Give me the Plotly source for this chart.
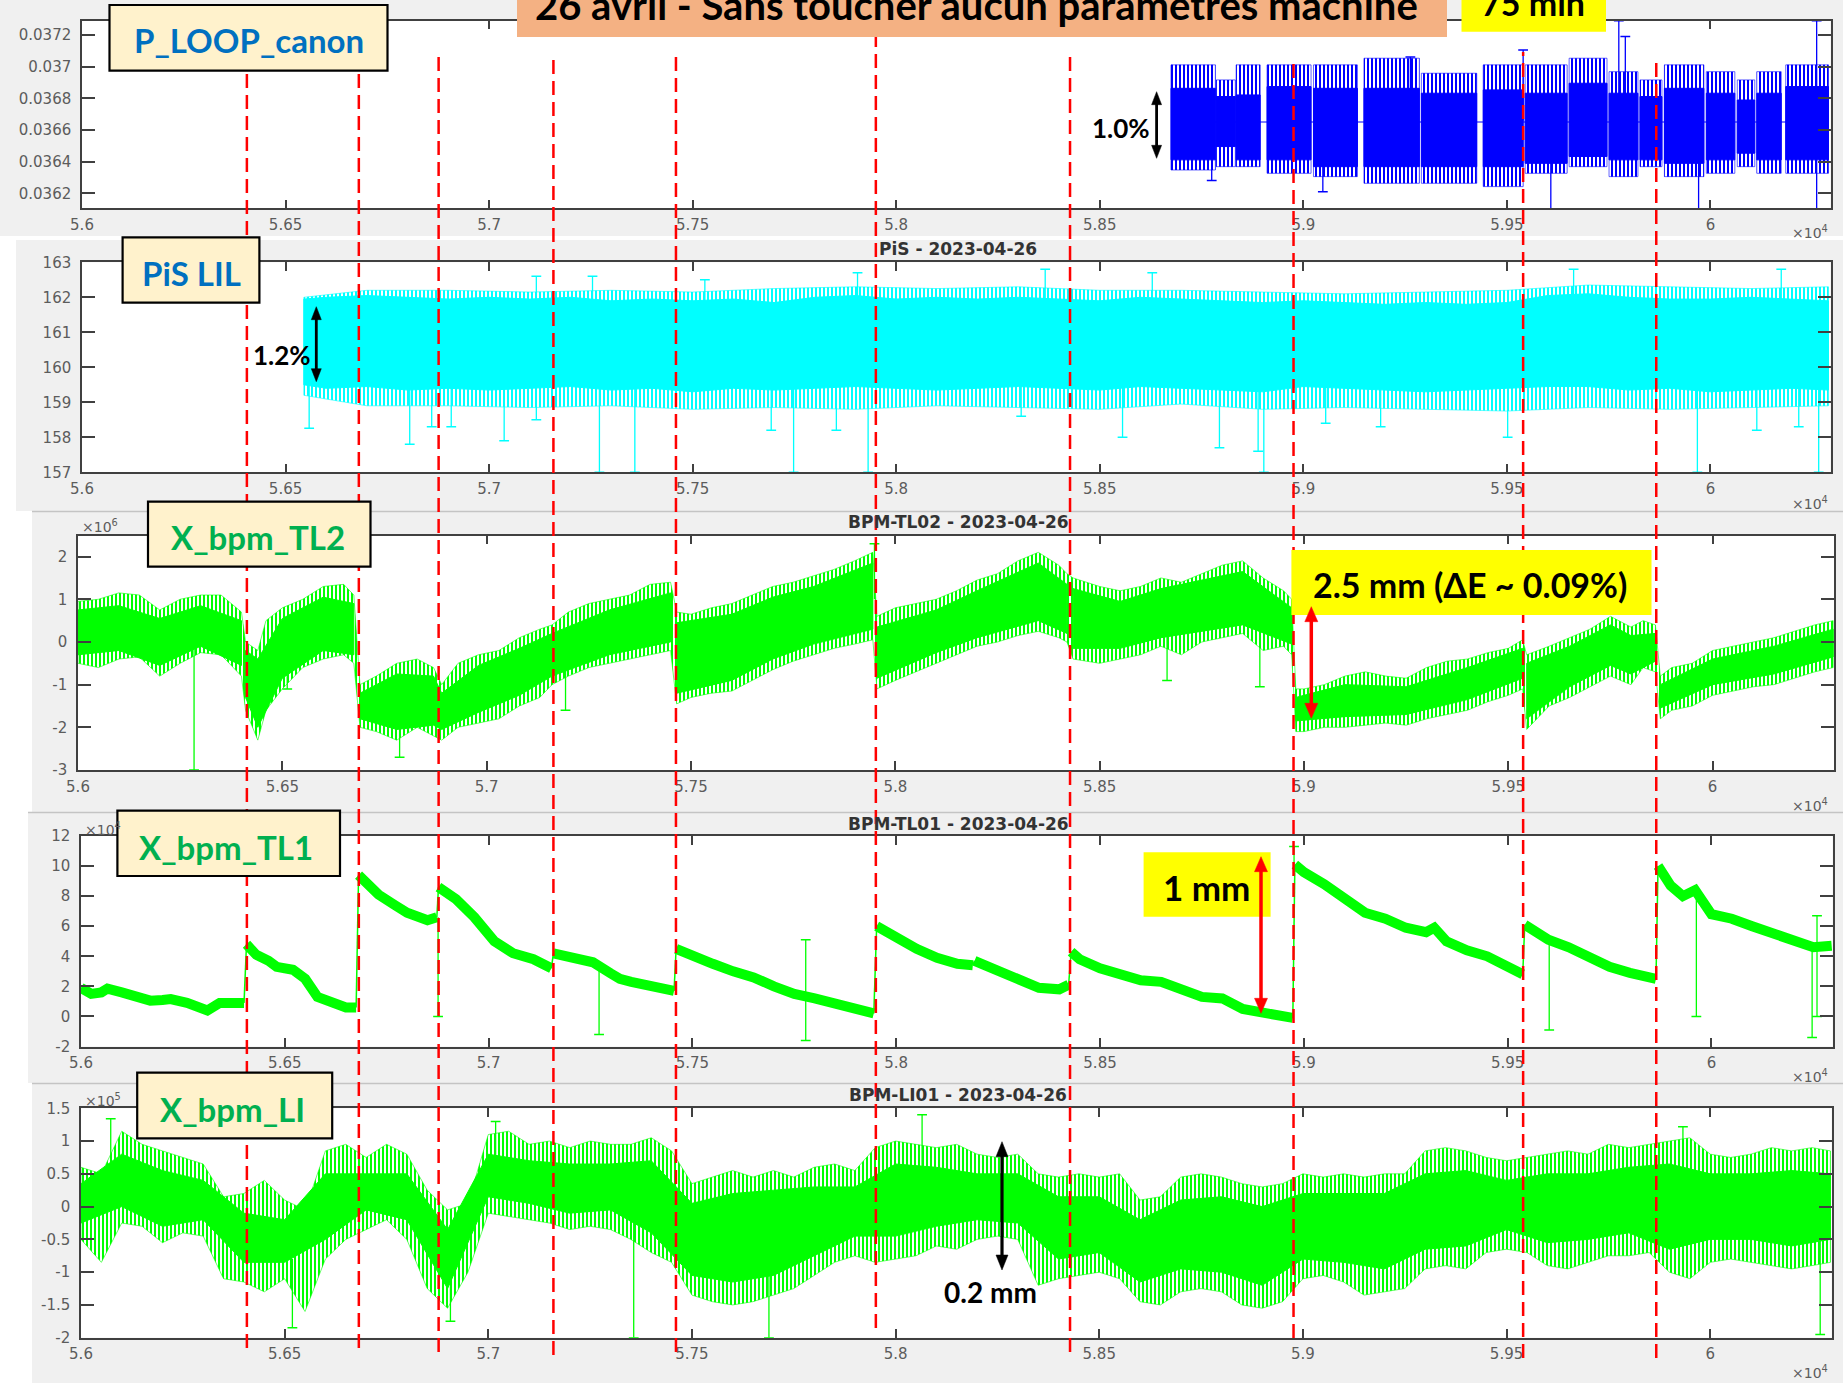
import plotly.graph_objects as go

W, H = 1843, 1383


def fx(v):
    return v / W


def fy(v):
    return 1 - v / H


# ---------------------------------------------------------------- data
x_tick_vals = [56000, 56500, 57000, 57500, 58000, 58500, 59000, 59500, 60000]
x_tick_text = ["5.6", "5.65", "5.7", "5.75", "5.8", "5.85", "5.9", "5.95", "6"]

events_x = [56405, 56680, 56876, 57158, 57459, 57950, 58427, 58976, 59540, 59867]

# Panel 1 : P_LOOP_canon  (data comes in blocks)
p1_yticks = [0.0362, 0.0364, 0.0366, 0.0368, 0.037, 0.0372]
p1_ytext = ["0.0362", "0.0364", "0.0366", "0.0368", "0.037", "0.0372"]
p1_blk_x0 = [58675, 58786, 58835, 58911, 59025, 59149, 59290, 59442, 59545, 59653, 59751,
             59827, 59887, 59990, 60066, 60114, 60185]
p1_blk_x1 = [58784, 58833, 58894, 59019, 59133, 59285, 59426, 59540, 59648, 59746, 59822,
             59881, 59984, 60060, 60109, 60174, 60290]
p1_out_hi = [0.037011, 0.036916, 0.037011, 0.037011, 0.037011, 0.037053, 0.036958, 0.037011,
             0.037011, 0.037053, 0.036968, 0.036916, 0.037011, 0.036968, 0.036916, 0.036968,
             0.037011]
p1_out_lo = [0.036347, 0.036368, 0.036368, 0.036326, 0.036305, 0.036263, 0.036263, 0.036242,
             0.036326, 0.036368, 0.036305, 0.036368, 0.036305, 0.036326, 0.036368, 0.036326,
             0.036326]
p1_core_hi = [0.036863, 0.036811, 0.036821, 0.036874, 0.036863, 0.036863, 0.036832, 0.036853,
              0.036832, 0.036895, 0.036832, 0.036811, 0.036863, 0.036832, 0.036789, 0.036832,
              0.036874]
p1_core_lo = [0.036411, 0.036495, 0.036411, 0.036411, 0.036368, 0.036368, 0.036368, 0.036368,
              0.036389, 0.036432, 0.036411, 0.036411, 0.036389, 0.036411, 0.036453, 0.036411,
              0.036411]
p1_mid = 0.03665
p1_spk_x = [58775, 59048, 59263, 59540, 59608, 59775, 59791, 59971, 60261, 60261]
p1_spk_base = [0.03666, 0.03666, 0.03666, 0.03666, 0.03666, 0.03666, 0.03666, 0.03666, 0.03666, 0.03666]
p1_spk_tip = [0.03628, 0.03621, 0.03706, 0.037105, 0.0361, 0.03729, 0.03719, 0.0361, 0.03729, 0.0361]

# Panel 2 : PiS LIL
p2_yticks = [157, 158, 159, 160, 161, 162, 163]
p2_ytext = ["157", "158", "159", "160", "161", "162", "163"]
p2_x = [56545, 56600, 56700, 56800, 56900, 57000, 57100, 57200, 57300, 57400, 57500,
        57600, 57700, 57800, 57900, 58000, 58100, 58200, 58300, 58400, 58500, 58600,
        58700, 58800, 58900, 59000, 59100, 59200, 59300, 59400, 59500, 59600, 59700,
        59800, 59900, 60000, 60100, 60200, 60290]
p2_hi = [161.95, 162.0, 162.05, 162.0, 161.95, 162.0, 161.95, 162.0, 161.9, 161.95, 161.9,
         161.95, 161.85, 162.0, 162.05, 161.95, 162.0, 161.95, 162.0, 161.95, 161.9, 162.0,
         161.95, 161.9, 161.85, 161.9, 161.85, 161.8, 161.85, 161.8, 161.85, 162.05, 162.1,
         162.0, 161.95, 161.95, 162.0, 161.95, 161.9]
p2_lo = [159.5, 159.4, 159.45, 159.35, 159.4, 159.35, 159.4, 159.45, 159.35, 159.4, 159.3,
         159.4, 159.35, 159.4, 159.45, 159.4, 159.35, 159.4, 159.45, 159.4, 159.35, 159.45,
         159.4, 159.35, 159.3, 159.45, 159.4, 159.35, 159.3, 159.35, 159.4, 159.45, 159.45,
         159.35, 159.4, 159.3, 159.35, 159.4, 159.35]
p2o_x = [56545, 56700, 56900, 57100, 57300, 57500, 57700, 57900, 58100, 58300, 58500, 58700,
         58900, 59100, 59300, 59500, 59700, 59900, 60100, 60290]
p2o_hi = [162.0, 162.2, 162.2, 162.15, 162.2, 162.15, 162.25, 162.3, 162.25, 162.3, 162.2,
          162.2, 162.15, 162.1, 162.15, 162.2, 162.35, 162.3, 162.25, 162.3]
p2o_lo = [159.2, 158.9, 158.9, 158.85, 158.9, 158.8, 158.85, 158.8, 158.9, 158.85, 158.8,
          158.95, 158.8, 158.85, 158.8, 158.75, 158.85, 158.8, 158.85, 158.9]
p2_spk_x = [56558, 56805, 56859, 56907, 57037, 57116, 57271, 57358, 57748, 57931, 57693,
            57853, 58307, 58556, 58794, 58889, 58903, 59190, 59502, 59968, 60266, 60114,
            60217, 59055, 57116, 57254, 57905, 58366, 58629, 57530, 59664, 60174]
p2_spk_base = [159.6] * 24 + [161.8] * 8
p2_spk_tip = [158.26, 157.8, 158.3, 158.3, 157.9, 158.5, 157.0, 157.0, 157.0, 157.0, 158.2,
              158.2, 158.6, 158.0, 157.7, 157.6, 157.0, 158.3, 158.0, 157.0, 157.0, 158.2,
              158.3, 158.4, 162.6, 162.6, 162.7, 162.8, 162.7, 162.5, 162.8, 162.8]

# Panel 3 : X_bpm_TL2 (x1e6) - outer extent
p3_yticks = [-3, -2, -1, 0, 1, 2]
p3_ytext = ["-3", "-2", "-1", "0", "1", "2"]
p3_x = [56000, 56050, 56100, 56150, 56200, 56250, 56300, 56350, 56400,
        56410, 56440, 56460, 56500, 56550, 56600, 56650, 56675,
        56690, 56730, 56780, 56830, 56870, 56890, 56930, 56980, 57030, 57080, 57130,
        57160, 57200, 57250, 57300, 57350, 57400, 57450,
        57465, 57500, 57550, 57600, 57650, 57700, 57750, 57800, 57850, 57900, 57945,
        57955, 58000, 58050, 58100, 58150, 58200, 58250, 58300, 58350, 58400, 58420,
        58435, 58500, 58550, 58600, 58650, 58700, 58750, 58800, 58850, 58900, 58950, 58970,
        58980, 59000, 59050, 59100, 59150, 59200, 59250, 59300, 59350, 59400, 59450, 59500, 59535,
        59545, 59600, 59650, 59700, 59750, 59800, 59830, 59860,
        59872, 59900, 59950, 60000, 60050, 60100, 60150, 60200, 60250, 60295]
p3_hi = [0.95, 1.0, 1.15, 1.1, 0.75, 1.0, 1.1, 1.1, 0.7,
         0.0, -0.2, 0.5, 0.8, 1.0, 1.3, 1.35, 1.1,
         -1.0, -0.8, -0.5, -0.4, -0.6, -1.0, -0.5, -0.3, -0.2, 0.1, 0.3,
         0.4, 0.7, 0.9, 1.0, 1.1, 1.35, 1.4,
         0.7, 0.65, 0.8, 0.9, 1.1, 1.3, 1.4, 1.55, 1.7, 1.9, 2.1,
         0.6, 0.8, 0.9, 1.0, 1.2, 1.45, 1.6, 1.9, 2.1, 1.8, 1.6,
         1.5, 1.3, 1.2, 1.3, 1.5, 1.4, 1.6, 1.8, 1.9, 1.5, 1.2, 1.0,
         -1.1, -1.1, -1.0, -0.8, -0.7, -0.8, -0.85, -0.6, -0.45, -0.4, -0.25, -0.15, 0.05,
         -0.3, -0.1, 0.1, 0.3, 0.6, 0.35, 0.5, 0.4,
         -0.8, -0.6, -0.5, -0.2, -0.1, 0.0, 0.1, 0.25, 0.4, 0.5]
p3_lo = [-0.5, -0.6, -0.4, -0.35, -0.8, -0.5, -0.25, -0.3, -0.8,
         -1.6, -2.3, -1.6, -1.1, -0.6, -0.4, -0.3, -0.5,
         -2.0, -2.1, -2.3, -2.0, -2.2, -2.3, -2.0, -1.9, -1.8, -1.5, -1.3,
         -1.0, -0.8, -0.6, -0.5, -0.4, -0.3, -0.2,
         -1.45, -1.3, -1.2, -1.15, -0.9, -0.65, -0.45, -0.3, -0.15, -0.05, 0.05,
         -1.1, -0.9, -0.7, -0.5, -0.3, -0.1, 0.0, 0.15, 0.25, 0.1, 0.0,
         -0.4, -0.5, -0.4, -0.3, -0.1, -0.3, 0.0, 0.1, 0.2, -0.2, -0.1, -0.3,
         -2.1, -2.1, -2.0, -2.0, -1.95, -1.9, -1.95, -1.8, -1.7, -1.6, -1.4, -1.25, -1.1,
         -2.05, -1.5, -1.3, -1.05, -0.8, -1.0, -0.6, -0.7,
         -1.8, -1.6, -1.5, -1.25, -1.15, -1.05, -1.0, -0.85, -0.7, -0.6]
# Panel 3 dense core (segments separated by None)
p3c_x = [56000, 56100, 56200, 56300, 56400, None,
         56410, 56440, 56500, 56600, 56675, None,
         56690, 56780, 56870, 56890, 56980, 57080, 57160, 57300, 57450, None,
         57465, 57600, 57700, 57800, 57945, None,
         57955, 58100, 58200, 58350, 58420, None,
         58435, 58550, 58650, 58850, 58970, None,
         58980, 59100, 59250, 59400, 59535, None,
         59545, 59650, 59750, 59800, 59860, None,
         59872, 60000, 60150, 60295]
p3c_hi = [0.75, 0.85, 0.55, 0.85, 0.5, None,
          -0.2, -0.4, 0.55, 1.05, 0.9, None,
          -1.2, -0.75, -0.8, -1.2, -0.55, -0.15, 0.2, 0.75, 1.15, None,
          0.45, 0.65, 1.05, 1.3, 1.85, None,
          0.35, 0.75, 1.2, 1.85, 1.35, None,
          1.25, 0.95, 1.25, 1.65, 0.8, None,
          -1.3, -1.0, -1.05, -0.6, -0.15, None,
          -0.5, -0.1, 0.4, 0.15, 0.2, None,
          -1.0, -0.4, -0.1, 0.3]
p3c_lo = [-0.3, -0.2, -0.55, -0.1, -0.55, None,
          -1.3, -2.0, -0.85, -0.2, -0.3, None,
          -1.8, -2.05, -1.95, -2.05, -1.65, -1.25, -0.8, -0.3, 0.0, None,
          -1.2, -0.9, -0.4, -0.05, 0.3, None,
          -0.85, -0.25, 0.1, 0.5, 0.2, None,
          -0.15, -0.15, 0.1, 0.4, -0.05, None,
          -1.85, -1.75, -1.7, -1.35, -0.85, None,
          -1.8, -1.05, -0.55, -0.75, -0.45, None,
          -1.55, -1.0, -0.75, -0.35]
p3_spk_x = [56284, 56512, 56787, 57193, 57949, 58665, 58892]
p3_spk_base = [0.0, 0.0, -1.2, -0.3, 1.0, 0.6, 0.6]
p3_spk_tip = [-3.0, -1.1, -2.7, -1.6, 2.3, -0.9, -1.05]

# Panel 4 : X_bpm_TL1 (segments separated by None)
p4_yticks = [-2, 0, 2, 4, 6, 8, 10, 12]
p4_ytext = ["-2", "0", "2", "4", "6", "8", "10", "12"]
p4_x = [56000, 56025, 56050, 56065, 56100, 56130, 56170, 56200, 56220, 56260, 56300, 56310, 56340, 56380, 56400, None,
        56406, 56430, 56460, 56480, 56520, 56550, 56580, 56600, 56630, 56650, 56675, None,
        56681, 56700, 56730, 56770, 56800, 56850, 56873, None,
        56877, 56900, 56920, 56965, 57000, 57014, 57060, 57110, 57154, None,
        57159, 57180, 57210, 57256, 57300, 57322, 57350, 57400, 57455, None,
        57460, 57500, 57550, 57600, 57650, 57700, 57750, 57800, 57850, 57900, 57945, None,
        57952, 58000, 58050, 58100, 58150, 58188, None,
        58192, 58250, 58300, 58350, 58400, 58423, None,
        58429, 58450, 58500, 58550, 58600, 58650, 58700, 58750, 58800, 58850, 58900, 58950, 58973, None,
        58978, 59000, 59050, 59100, 59150, 59200, 59250, 59300, 59320, 59350, 59400, 59450, 59500, 59537, None,
        59542, 59600, 59650, 59700, 59750, 59800, 59864, None,
        59869, 59900, 59930, 59960, 60000, 60050, 60100, 60150, 60200, 60250, 60295]
p4_y = [1.9, 1.5, 1.6, 1.85, 1.6, 1.3, 1.05, 1.1, 1.15, 0.9, 0.5, 0.4, 0.9, 0.8, 0.9, None,
        4.8, 4.1, 3.7, 3.3, 3.1, 2.5, 1.3, 1.1, 0.8, 0.6, 0.6, None,
        9.4, 8.8, 8.1, 7.4, 6.9, 6.4, 6.6, None,
        8.6, 8.1, 7.8, 6.6, 5.4, 5.0, 4.2, 3.8, 3.2, None,
        4.2, 4.1, 3.9, 3.6, 2.85, 2.5, 2.3, 2.0, 1.7, None,
        4.5, 4.0, 3.5, 3.0, 2.6, 2.0, 1.5, 1.2, 0.9, 0.5, 0.2, None,
        6.0, 5.2, 4.5, 3.9, 3.5, 3.4, None,
        3.7, 3.0, 2.4, 1.9, 1.8, 2.1, None,
        4.3, 3.8, 3.2, 2.8, 2.4, 2.3, 1.8, 1.3, 1.2, 0.5, 0.25, 0.1, -0.1, None,
        10.1, 9.6, 8.8, 7.8, 6.9, 6.5, 5.9, 5.6, 5.9, 5.0, 4.4, 4.0, 3.4, 2.8, None,
        6.1, 5.1, 4.6, 3.9, 3.3, 2.9, 2.5, None,
        10.0, 8.7, 8.0, 8.4, 6.8, 6.5, 6.0, 5.5, 5.1, 4.6, 4.7]
p4_spk_x = [56876, 57271, 57778, 57778, 58976, 59602, 59963, 60247, 60259, 60259]
p4_spk_base = [6.6, 3.6, 1.4, 1.4, 10.1, 5.0, 8.3, 4.7, 4.7, 4.7]
p4_spk_tip = [0.0, -1.2, 5.1, -1.6, 11.3, -0.9, 0.0, -1.4, 6.7, 0.0]

# Panel 5 : X_bpm_LI (x1e5) - outer extent
p5_yticks = [-2, -1.5, -1, -0.5, 0, 0.5, 1, 1.5]
p5_ytext = ["-2", "-1.5", "-1", "-0.5", "0", "0.5", "1", "1.5"]
p5_x = [56000, 56050, 56100, 56150, 56200, 56250, 56300, 56350, 56400, 56450,
        56500, 56550, 56600, 56650, 56700, 56750, 56800, 56850, 56900, 56950,
        57000, 57050, 57100, 57150, 57200, 57250, 57300, 57350, 57400, 57450,
        57500, 57550, 57600, 57650, 57700, 57750, 57800, 57850, 57900, 57950,
        58000, 58050, 58100, 58150, 58200, 58250, 58300, 58350, 58400, 58450,
        58500, 58550, 58600, 58650, 58700, 58750, 58800, 58850, 58900, 58950,
        59000, 59050, 59100, 59150, 59200, 59250, 59300, 59350, 59400, 59450,
        59500, 59550, 59600, 59650, 59700, 59750, 59800, 59850, 59900, 59950,
        60000, 60050, 60100, 60150, 60200, 60250, 60295]
p5_hi = [0.6, 0.5, 1.15, 0.95, 0.85, 0.75, 0.65, 0.15, 0.2, 0.4,
         0.1, -0.05, 0.85, 0.95, 0.75, 0.95, 0.8, 0.25, -0.05, 0.05,
         1.1, 1.15, 0.95, 1.0, 0.9, 1.0, 0.95, 0.95, 1.05, 0.85,
         0.35, 0.45, 0.55, 0.45, 0.55, 0.45, 0.6, 0.65, 0.55, 0.9,
         1.0, 0.95, 0.9, 0.95, 0.8, 0.75, 0.8, 0.5, 0.45, 0.5,
         0.45, 0.5, 0.1, 0.15, 0.45, 0.5, 0.45, 0.35, 0.3, 0.35,
         0.5, 0.45, 0.5, 0.45, 0.5, 0.5, 0.85, 0.9, 0.85, 0.75,
         0.7, 0.75, 0.8, 0.85, 0.8, 0.95, 0.9, 0.95, 1.0, 1.05,
         0.8, 0.75, 0.8, 0.9, 0.85, 0.9, 0.85]
p5_lo = [-0.5, -0.85, -0.25, -0.3, -0.55, -0.4, -0.45, -1.1, -1.15, -1.3,
         -1.1, -1.6, -0.8, -0.5, -0.35, -0.2, -0.5, -1.25, -1.55, -1.0,
         -0.1, -0.15, -0.2, -0.25, -0.35, -0.3, -0.35, -0.5, -0.7, -0.85,
         -1.35, -1.45, -1.5, -1.45, -1.35, -1.25, -1.05, -0.85, -0.75, -0.85,
         -0.8, -0.75, -0.6, -0.65, -0.5, -0.45, -0.5, -1.2, -1.1, -1.05,
         -1.0, -1.1, -1.45, -1.5, -1.3, -1.25, -1.3, -1.5, -1.55, -1.45,
         -1.1, -1.05, -1.15, -1.35, -1.3, -1.25, -0.95, -0.9, -0.95, -0.7,
         -0.65, -0.7, -0.9, -0.95, -0.85, -0.75, -0.75, -0.7, -1.0, -1.1,
         -0.85, -0.8, -0.85, -0.9, -0.95, -0.9, -0.85]
# Panel 5 dense core
p5c_x = [56000, 56100, 56200, 56300, 56400, 56500, 56600, 56700, 56800, 56900, 57000,
         57100, 57200, 57300, 57400, 57500, 57600, 57700, 57800, 57900, 58000, 58100,
         58200, 58300, 58400, 58500, 58600, 58700, 58800, 58900, 59000, 59100, 59200,
         59300, 59400, 59500, 59600, 59700, 59800, 59900, 60000, 60100, 60200, 60295]
p5c_hi = [0.35, 0.8, 0.55, 0.4, -0.1, -0.2, 0.5, 0.5, 0.5, -0.35, 0.8,
          0.7, 0.65, 0.65, 0.7, 0.05, 0.2, 0.25, 0.3, 0.3, 0.65, 0.6,
          0.5, 0.5, 0.15, 0.15, -0.2, 0.1, 0.15, 0.0, 0.2, 0.2, 0.2,
          0.5, 0.55, 0.4, 0.5, 0.5, 0.6, 0.65, 0.5, 0.5, 0.55, 0.5]
p5c_lo = [-0.25, 0.0, -0.3, -0.2, -0.85, -0.85, -0.5, -0.05, -0.2, -1.25, 0.15,
          0.05, -0.1, -0.05, -0.4, -1.05, -1.15, -1.05, -0.75, -0.45, -0.45, -0.3,
          -0.2, -0.25, -0.8, -0.7, -1.15, -0.95, -1.0, -1.2, -0.8, -0.85, -0.95,
          -0.65, -0.6, -0.35, -0.55, -0.5, -0.4, -0.65, -0.5, -0.5, -0.6, -0.5]
p5_spk_x = [56073, 56519, 56907, 57018, 57357, 57689, 58065, 59933, 60270]
p5_spk_base = [0.3, -0.8, -0.8, 0.4, -0.2, -0.6, 0.3, 0.2, -0.5]
p5_spk_tip = [1.34, -1.85, -1.75, 1.3, -2.0, -2.0, 1.4, 1.22, -1.95]

# ---------------------------------------------------------------- styles
BLUE = "#0000FF"
CYAN = "#00FFFF"
GREEN = "#00FF00"
AXC = "#404040"
TICKC = "#5c5c5c"

panels = [
    dict(xd=(82, 1830.5), yd=(20.7, 208.3), xr=(56000, 60295), yr=(0.036105, 0.03729),
         tv=p1_yticks, tt=p1_ytext),
    dict(xd=(82, 1830.5), yd=(262.3, 472.3), xr=(56000, 60295), yr=(157, 163),
         tv=p2_yticks, tt=p2_ytext),
    dict(xd=(78, 1834), yd=(535.7, 770), xr=(56000, 60297), yr=(-3, 2.49),
         tv=p3_yticks, tt=p3_ytext),
    dict(xd=(81, 1832.5), yd=(836, 1046.5), xr=(56000, 60297), yr=(-2, 12),
         tv=p4_yticks, tt=p4_ytext),
    dict(xd=(81, 1831.6), yd=(1108.3, 1337.7), xr=(56000, 60298), yr=(-2, 1.5),
         tv=p5_yticks, tt=p5_ytext),
]
ids = ["", "2", "3", "4", "5"]

fig = go.Figure()


def polys(xs, hi, lo):
    """closed polygons (one per None-separated segment) from upper/lower edges"""
    X, Y = [], []
    seg = []
    for a, b, c in list(zip(xs, hi, lo)) + [(None, None, None)]:
        if a is None:
            if seg:
                sx = [s[0] for s in seg]
                X += sx + sx[::-1] + [sx[0], None]
                Y += [s[1] for s in seg] + [s[2] for s in seg][::-1] + [seg[0][1], None]
            seg = []
        else:
            seg.append((a, b, c))
    return X, Y


def band(xs, hi, lo, color, k, pattern=False):
    X, Y = polys(xs, hi, lo)
    kw = dict(fillcolor=color)
    if pattern:
        kw = dict(fillcolor="rgba(0,0,0,0)",
                  fillpattern=dict(shape="|", fgcolor=color, bgcolor="rgba(0,0,0,0)",
                                   size=4, solidity=0.5, fgopacity=1))
    fig.add_trace(go.Scatter(
        x=X, y=Y, mode="lines", fill="toself", line=dict(color=color, width=0.6 if pattern else 1),
        xaxis="x" + ids[k], yaxis="y" + ids[k], hoverinfo="skip", showlegend=False, **kw))


def spikes(xs, base, tip, color, k):
    X, Y = [], []
    for a, b, c in zip(xs, base, tip):
        X += [a, a, None]
        Y += [b, c, None]
    fig.add_trace(go.Scatter(x=X, y=Y, mode="lines", line=dict(color=color, width=1.3),
                             xaxis="x" + ids[k], yaxis="y" + ids[k],
                             hoverinfo="skip", showlegend=False))
    fig.add_trace(go.Scatter(x=xs, y=tip, mode="markers",
                             marker=dict(symbol="line-ew-open", size=7, color=color,
                                         line=dict(color=color, width=1.5)),
                             xaxis="x" + ids[k], yaxis="y" + ids[k],
                             hoverinfo="skip", showlegend=False))


# panel 1: blocks
fig.add_trace(go.Scatter(x=[p1_blk_x0[0], p1_blk_x1[-1]], y=[p1_mid, p1_mid], mode="lines",
                         line=dict(color=BLUE, width=1.2), xaxis="x", yaxis="y",
                         hoverinfo="skip", showlegend=False))
bx, bho, blo, bhc, blc = [], [], [], [], []
for a, b, c, d, e, f in zip(p1_blk_x0, p1_blk_x1, p1_out_hi, p1_out_lo, p1_core_hi, p1_core_lo):
    bx += [a, b, None]
    bho += [c, c, None]
    blo += [d, d, None]
    bhc += [e, e, None]
    blc += [f, f, None]
band(bx, bho, blo, BLUE, 0, pattern=True)
band(bx, bhc, blc, BLUE, 0)
spikes(p1_spk_x, p1_spk_base, p1_spk_tip, BLUE, 0)

# panel 2
band(p2o_x, p2o_hi, p2o_lo, CYAN, 1, pattern=True)
band(p2_x, p2_hi, p2_lo, CYAN, 1)
spikes(p2_spk_x, p2_spk_base, p2_spk_tip, CYAN, 1)

# panel 3
band(p3_x, p3_hi, p3_lo, GREEN, 2, pattern=True)
band(p3c_x, p3c_hi, p3c_lo, GREEN, 2)
spikes(p3_spk_x, p3_spk_base, p3_spk_tip, GREEN, 2)

# panel 4: thick line per segment + thin jump connectors
fig.add_trace(go.Scatter(x=p4_x, y=p4_y, mode="lines", connectgaps=False,
                         line=dict(color=GREEN, width=10), xaxis="x4", yaxis="y4",
                         hoverinfo="skip", showlegend=False))
jx, jy = [], []
for i, v in enumerate(p4_x):
    if v is None:
        jx += [p4_x[i - 1], p4_x[i + 1], None]
        jy += [p4_y[i - 1], p4_y[i + 1], None]
fig.add_trace(go.Scatter(x=jx, y=jy, mode="lines", line=dict(color=GREEN, width=1.5),
                         xaxis="x4", yaxis="y4", hoverinfo="skip", showlegend=False))
spikes(p4_spk_x, p4_spk_base, p4_spk_tip, GREEN, 3)

# panel 5
band(p5_x, p5_hi, p5_lo, GREEN, 4, pattern=True)
band(p5c_x, p5c_hi, p5c_lo, GREEN, 4)
spikes(p5_spk_x, p5_spk_base, p5_spk_tip, GREEN, 4)

# ---------------------------------------------------------------- axes
layout = dict(template="none", width=W, height=H, autosize=False,
              margin=dict(l=0, r=0, t=0, b=0, pad=0),
              paper_bgcolor="white", plot_bgcolor="white", showlegend=False)
tickfont = dict(family="DejaVu Sans", size=15, color=TICKC)
for k, p in enumerate(panels):
    layout["xaxis" + ids[k]] = dict(
        domain=[fx(p["xd"][0]), fx(p["xd"][1])], anchor="y" + ids[k], range=list(p["xr"]),
        tickmode="array", tickvals=x_tick_vals, ticktext=x_tick_text,
        showline=True, linecolor=AXC, linewidth=1.5, mirror="ticks",
        ticks="inside", ticklen=9, tickwidth=1.5, tickcolor=AXC, automargin=False,
        showgrid=False, zeroline=False, tickfont=tickfont, ticklabelstandoff=2,
        fixedrange=True)
    layout["yaxis" + ids[k]] = dict(
        domain=[fy(p["yd"][1]), fy(p["yd"][0])], anchor="x" + ids[k], range=list(p["yr"]),
        tickmode="array", tickvals=p["tv"], ticktext=p["tt"],
        showline=True, linecolor=AXC, linewidth=1.5, mirror="ticks",
        ticks="inside", ticklen=13, tickwidth=1.5, tickcolor=AXC, automargin=False,
        showgrid=False, zeroline=False, tickfont=tickfont, ticklabelstandoff=6,
        fixedrange=True)

# ---------------------------------------------------------------- shapes
shapes = []


def rect(x0, y0, x1, y1, fill, layer="below", lc=None, lw=0):
    shapes.append(dict(type="rect", xref="paper", yref="paper", x0=fx(x0), x1=fx(x1),
                       y0=fy(y1), y1=fy(y0), fillcolor=fill,
                       line=dict(color=lc or fill, width=lw), layer=layer))


# screenshot backgrounds
rect(0, 0, W, 236, "#F0F0F0")
rect(16, 240, W, 511, "#F0F0F0")
rect(32, 512, W, 812, "#F0F0F0")
rect(28, 813, W, 1083, "#F0F0F0")
rect(32, 1084, W, H, "#F0F0F0")
for p in panels:
    rect(p["xd"][0], p["yd"][0], p["xd"][1], p["yd"][1], "white")
for (xa, ya) in [(32, 511.5), (28, 812.5), (32, 1083.5)]:
    shapes.append(dict(type="line", xref="paper", yref="paper", x0=fx(xa), x1=1,
                       y0=fy(ya), y1=fy(ya), line=dict(color="#c4c4c4", width=1.5),
                       layer="below"))

# red dashed event lines
event_top = [52, 52, 52, 54, 54, 37, 52, 57, 52, 59]
event_bot = [1348, 1348, 1352, 1355, 1352, 1328, 1352, 1338, 1358, 1358]
for ex, t, b in zip(events_x, event_top, event_bot):
    shapes.append(dict(type="line", xref="x", yref="paper", x0=ex, x1=ex,
                       y0=fy(b), y1=fy(t),
                       line=dict(color="#FF0000", width=2.5, dash="14px,7px"),
                       layer="above"))

# boxes
rect(517, -5, 1447, 37, "#F4B183", layer="above")
rect(1461.5, -5, 1606, 31.7, "#FFFF00", layer="above")
rect(109.5, 5, 387.5, 70.7, "#FFF2CC", layer="above", lc="black", lw=2.2)
rect(122.6, 237.3, 259.4, 302.7, "#FFF2CC", layer="above", lc="black", lw=2.2)
rect(148, 501.7, 370.5, 566.7, "#FFF2CC", layer="above", lc="black", lw=2.2)
rect(117.4, 810.7, 340, 876, "#FFF2CC", layer="above", lc="black", lw=2.2)
rect(137.2, 1072.7, 332.2, 1138.3, "#FFF2CC", layer="above", lc="black", lw=2.2)
rect(1291.4, 550, 1651.5, 615, "#FFFF00", layer="above")
rect(1143.6, 852.3, 1270.6, 916.7, "#FFFF00", layer="above")


def darrow(x, ytop, ybot, color, lw, hw, hl):
    shapes.append(dict(type="line", xref="paper", yref="paper", x0=fx(x), x1=fx(x),
                       y0=fy(ytop + hl * 0.7), y1=fy(ybot - hl * 0.7),
                       line=dict(color=color, width=lw), layer="above"))
    shapes.append(dict(type="path", xref="paper", yref="paper",
                       path="M %f %f L %f %f L %f %f Z" % (
                           fx(x), fy(ytop), fx(x - hw / 2), fy(ytop + hl), fx(x + hw / 2), fy(ytop + hl)),
                       fillcolor=color, line=dict(color=color, width=0.5), layer="above"))
    shapes.append(dict(type="path", xref="paper", yref="paper",
                       path="M %f %f L %f %f L %f %f Z" % (
                           fx(x), fy(ybot), fx(x - hw / 2), fy(ybot - hl), fx(x + hw / 2), fy(ybot - hl)),
                       fillcolor=color, line=dict(color=color, width=0.5), layer="above"))


darrow(1156.6, 91.7, 158.3, "black", 2.8, 10, 13)
darrow(316.3, 306.7, 381.7, "black", 2.8, 10, 13)
darrow(1311.3, 606.7, 718.3, "#FF0000", 3.5, 13, 15)
darrow(1261, 856.7, 1013.3, "#FF0000", 3.5, 13, 15)
darrow(1002, 1141.7, 1270, "black", 3.2, 12, 15)

# ---------------------------------------------------------------- annotations
ann = []


def text(x, y, s, size, color="black", family="Lato", bold=True, xanchor="center",
         yanchor="middle"):
    ann.append(dict(x=fx(x), y=fy(y), xref="paper", yref="paper",
                    text=("<b>%s</b>" % s) if bold else s, showarrow=False,
                    font=dict(family=family, size=size, color=color),
                    xanchor=xanchor, yanchor=yanchor))


text(977, 5, "26 avril - Sans toucher aucun paramètres machine", 40)
text(1533, 3, "75 min", 34)
text(248.5, 40, "P_LOOP_canon", 33, "#0070C0")
text(191.8, 273, "PiS LIL", 33, "#0070C0")
text(258.2, 537, "X_bpm_TL2", 33, "#00B050")
text(226.4, 847, "X_bpm_TL1", 33, "#00B050")
text(232.3, 1108.5, "X_bpm_LI", 33, "#00B050")
text(1470, 584, "2.5 mm (ΔE ~ 0.09%)", 34)
text(1206.6, 887, "1 mm", 35)
text(1120.5, 128, "1.0%", 26)
text(281.8, 355, "1.2%", 26)
text(990.3, 1292, "0.2 mm", 28)

for (ty, s) in [(249, "PiS - 2023-04-26"), (522, "BPM-TL02 - 2023-04-26"),
                (824, "BPM-TL01 - 2023-04-26"), (1095, "BPM-LI01 - 2023-04-26")]:
    ann.append(dict(x=fx(958), y=fy(ty), xref="paper", yref="paper", text="<b>%s</b>" % s,
                    showarrow=False, font=dict(family="DejaVu Sans", size=17, color="#333333"),
                    xanchor="center", yanchor="middle"))

for ty in [232, 503, 805, 1076, 1372]:
    ann.append(dict(x=fx(1810), y=fy(ty), xref="paper", yref="paper",
                    text="×10<sup>4</sup>", showarrow=False,
                    font=dict(family="DejaVu Sans", size=14, color=TICKC),
                    xanchor="center", yanchor="middle"))
for (tx, ty, e) in [(80, 526, "6"), (83, 829, "4"), (83, 1100, "5")]:
    ann.append(dict(x=fx(tx), y=fy(ty), xref="paper", yref="paper",
                    text="×10<sup>%s</sup>" % e, showarrow=False,
                    font=dict(family="DejaVu Sans", size=14, color=TICKC),
                    xanchor="left", yanchor="middle"))

layout["shapes"] = shapes
layout["annotations"] = ann
fig.update_layout(**layout)

fig.write_html("out.html", include_plotlyjs=True, config={"displayModeBar": False},
               post_script="document.body.style.margin='0';document.body.style.overflow='hidden';")
